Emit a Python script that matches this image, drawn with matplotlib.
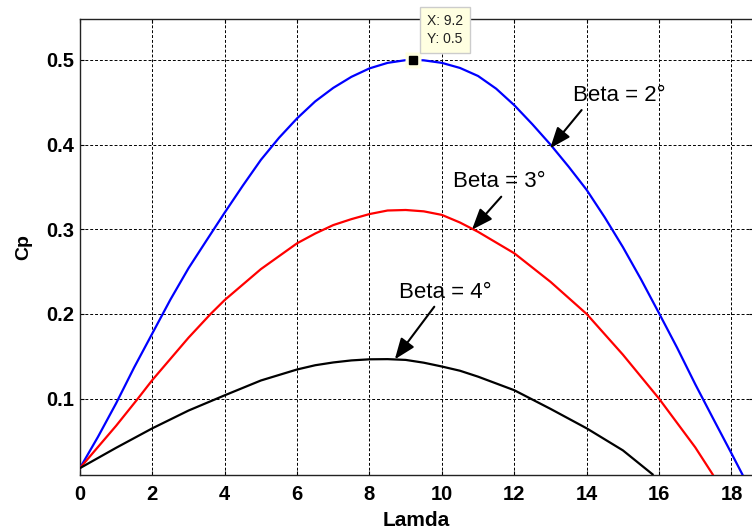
import matplotlib
matplotlib.use("Agg")
import matplotlib.pyplot as plt

plt.rcParams['font.family'] = ['Liberation Sans', 'DejaVu Sans']

# ---- data ----
lam_b2 = [0, 0.5, 1, 1.5, 2, 2.5, 3, 3.5, 4, 4.5, 5, 5.5, 6, 6.5, 7, 7.5, 8, 8.5, 9, 9.2,
          9.5, 10, 10.5, 11, 11.5, 12, 12.5, 13, 13.5, 14, 14.5, 15, 15.5, 16, 16.5,
          17, 17.5, 18, 18.3]
cp_b2 = [0.018, 0.055, 0.0945, 0.137, 0.177, 0.217, 0.254, 0.287, 0.3197, 0.3515, 0.382,
         0.408, 0.431, 0.451, 0.467, 0.480, 0.490, 0.4965, 0.4997, 0.500,
         0.4995, 0.4965, 0.4905, 0.481, 0.466, 0.4465, 0.424, 0.400, 0.374, 0.3465,
         0.314, 0.279, 0.241, 0.2008, 0.160, 0.117, 0.076, 0.0354, 0.0107]

lam_b3 = [0, 1, 1.6, 2, 3, 3.61, 4, 5, 6, 6.5, 7, 7.5, 8, 8.5, 9, 9.5, 10, 10.5, 11,
          12, 13, 14, 15, 16, 17, 17.48]
cp_b3 = [0.018, 0.068, 0.100, 0.122, 0.172, 0.200, 0.2165, 0.253, 0.2835, 0.295, 0.305,
         0.312, 0.318, 0.3222, 0.3228, 0.3212, 0.317, 0.308, 0.297,
         0.2717, 0.238, 0.200, 0.152, 0.100, 0.0425, 0.0107]

lam_b4 = [0, 1, 2, 3, 4, 5, 6, 6.5, 7, 7.5, 8, 8.5, 9, 9.5, 10, 10.5, 11, 12, 13, 14,
          15, 15.82]
cp_b4 = [0.018, 0.042, 0.065, 0.086, 0.104, 0.1215, 0.1345, 0.1395, 0.1428, 0.1452, 0.1465,
         0.1467, 0.1458, 0.1425, 0.138, 0.133, 0.126, 0.110, 0.088, 0.065,
         0.039, 0.0107]

x_ticks = [0, 2, 4, 6, 8, 10, 12, 14, 16, 18]
y_ticks = [0.1, 0.2, 0.3, 0.4, 0.5]

labels = ["Beta = 2\u00b0", "Beta = 3\u00b0", "Beta = 4\u00b0"]
label_xy = [(13.62, 0.4515), (10.31, 0.3503), (8.82, 0.2185)]
arrow_tail = [(13.86, 0.4408), (11.64, 0.3385), (9.79, 0.2086)]
arrow_tip = [(12.99, 0.3956), (10.83, 0.2995), (8.70, 0.1465)]

tip_x, tip_y = 9.2, 0.5

# ---- figure ----
fig = plt.figure(figsize=(7.52, 5.32), dpi=100)
ax = fig.add_axes([79.9 / 752, 57.5 / 532, 673.3 / 752, 455.5 / 532])

ax.plot(lam_b2, cp_b2, color='#0000FF', lw=1.6, zorder=3)
ax.plot(lam_b3, cp_b3, color='#FF0000', lw=1.6, zorder=3)
ax.plot(lam_b4, cp_b4, color='#000000', lw=1.6, zorder=3)

ax.set_xlim(0, 18.6)
ax.set_ylim(0.0105, 0.5483)
ax.set_xticks(x_ticks)
ax.set_yticks(y_ticks)
ax.set_xticklabels([str(t) for t in x_ticks])
ax.set_yticklabels([f"{t:.1f}" for t in y_ticks])

ax.grid(True, color='black', linestyle=(0, (3, 2)), linewidth=0.7)
ax.set_axisbelow(True)
ax.tick_params(direction='in', top=True, right=True, length=3, width=0.8,
               labelsize=14.5, colors='black')
ax.tick_params(axis='x', pad=7.5)
ax.tick_params(axis='y', pad=4)
for lab in ax.get_xticklabels() + ax.get_yticklabels():
    lab.set_fontweight('bold')
for s in ax.spines.values():
    s.set_linewidth(1.0)
    s.set_color('#222222')

ax.set_xlabel('Lamda', fontsize=15, fontweight='bold', labelpad=5)
ax.set_ylabel('Cp', fontsize=14, fontweight='bold', labelpad=10)

# annotations
for lab, (lx, ly), tail, tip in zip(labels, label_xy, arrow_tail, arrow_tip):
    ax.text(lx, ly, lab, fontsize=16, ha='left', va='baseline', color='black', zorder=5)
    ax.annotate('', xy=tip, xytext=tail,
                arrowprops=dict(arrowstyle='-|>,head_length=0.85,head_width=0.33',
                                color='black', lw=1.5, mutation_scale=15,
                                shrinkA=0, shrinkB=0), zorder=5)

# data tip
ax.plot([tip_x], [tip_y], marker='s', ms=11, color='#FFFFE1', mec='none',
        zorder=6, clip_on=False)
ax.plot([tip_x], [tip_y], marker='s', ms=5.8, color='black', zorder=7, clip_on=False)
ax.annotate(f"X: {tip_x}\nY: {tip_y}", xy=(tip_x, tip_y), xytext=(10, 10),
            textcoords='offset points', ha='left', va='bottom', fontsize=10,
            color='#222222', linespacing=1.35, zorder=8, annotation_clip=False,
            bbox=dict(boxstyle='square,pad=0.5', fc='#FFFFE1', ec='#CCCCCC', lw=1.0))

fig.savefig('out.png', dpi=100)
